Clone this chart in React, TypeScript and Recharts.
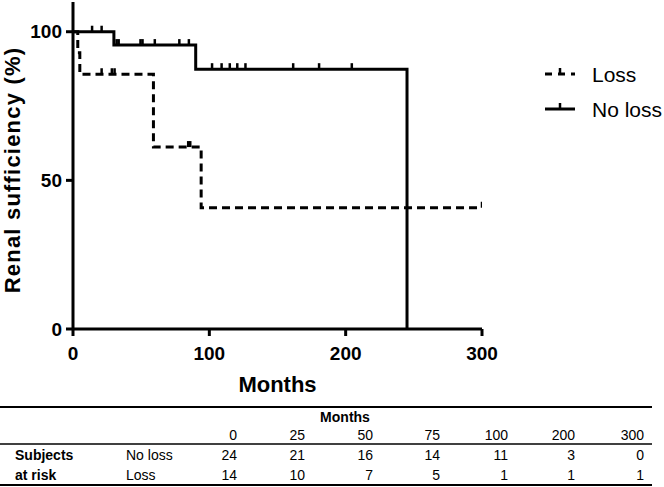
import React from 'react'
import {
  ComposedChart, Line, Scatter, XAxis, YAxis, Label,
} from 'recharts'

// Kaplan-Meier steps (months, % renal sufficiency)
const noLossTimes = [0, 30, 90, 245]
const noLossSurv = [100, 95.5, 87.4, 0]
const lossTimes = [0, 3.5, 5, 59, 94, 300]
const lossSurv = [100, 92.9, 85.7, 61.2, 40.8, 40.8]

// censored subjects
const noLossCensTimes = [14, 21, 32, 33.5, 49.5, 51, 60, 78, 85, 102, 109, 115, 120.5, 126.5, 161.5, 180.5, 204.5]
const noLossCensSurv = [100, 100, 95.5, 95.5, 95.5, 95.5, 95.5, 95.5, 95.5, 87.4, 87.4, 87.4, 87.4, 87.4, 87.4, 87.4, 87.4]
const lossCensTimes = [21, 28.5, 30.5, 84.5, 86, 300]
const lossCensSurv = [85.7, 85.7, 85.7, 61.2, 61.2, 40.8]

const xTicks = [0, 100, 200, 300]
const yTicks = [0, 50, 100]

// subjects at risk
const riskMonths = ['0', '25', '50', '75', '100', '200', '300']
const noLossRisk = [24, 21, 16, 14, 11, 3, 0]
const lossRisk = [14, 10, 7, 5, 1, 1, 1]

const FONT = 'Arial, "Liberation Sans", sans-serif'

const toPts = (t: number[], v: number[]) => t.map((x, i) => ({ t: x, v: v[i] }))

const CensorTick = (props: any) => {
  const { cx, cy } = props
  if (cx == null || cy == null) return null
  return <line x1={cx} y1={cy} x2={cx} y2={cy - 6} stroke="#000" strokeWidth={2.5} />
}

const YLabel = () => (
  <text
    transform="translate(20,170) rotate(-90)"
    textAnchor="middle"
    style={{ fontFamily: FONT, fontSize: 22, fontWeight: 700, letterSpacing: 1.2 }}
    fill="#000"
  >
    Renal sufficiency (%)
  </text>
)

const tickStyle = { fill: '#000', fontSize: 19, fontWeight: 700, fontFamily: FONT }

function RiskTable() {
  const colRight = [237, 305, 373, 440, 508, 575, 644]
  const txt = { fontFamily: FONT, fontSize: 14, fill: '#000' }
  return (
    <svg width={664} height={87} style={{ position: 'absolute', left: 0, top: 400 }}>
      <line x1={0} x2={652} y1={7} y2={7} stroke="#000" strokeWidth={2} />
      <text x={345} y={22} textAnchor="middle" style={{ ...txt, fontWeight: 700 }}>Months</text>
      {riskMonths.map((m, i) => (
        <text key={m} x={colRight[i]} y={40} textAnchor="end" style={txt}>{m}</text>
      ))}
      <line x1={0} x2={652} y1={44} y2={44} stroke="#000" strokeWidth={1.5} />
      <text x={15} y={60} style={{ ...txt, fontWeight: 700 }}>Subjects</text>
      <text x={126} y={60} style={txt}>No loss</text>
      {noLossRisk.map((n, i) => (
        <text key={'a' + i} x={colRight[i]} y={60} textAnchor="end" style={txt}>{n}</text>
      ))}
      <text x={15} y={80} style={{ ...txt, fontWeight: 700 }}>at risk</text>
      <text x={126} y={80} style={txt}>Loss</text>
      {lossRisk.map((n, i) => (
        <text key={'b' + i} x={colRight[i]} y={80} textAnchor="end" style={txt}>{n}</text>
      ))}
      <line x1={0} x2={652} y1={85} y2={85} stroke="#000" strokeWidth={2} />
    </svg>
  )
}

function KMLegend() {
  const txt = { fontFamily: FONT, fontSize: 21, fill: '#000' }
  return (
    <svg width={140} height={70} style={{ position: 'absolute', left: 540, top: 60 }}>
      <line x1={5} x2={35} y1={14} y2={14} stroke="#000" strokeWidth={3} strokeDasharray="7 6" />
      <line x1={20} x2={20} y1={14} y2={8} stroke="#000" strokeWidth={2.5} />
      <text x={52} y={22} style={txt}>Loss</text>
      <line x1={5} x2={35} y1={49} y2={49} stroke="#000" strokeWidth={3} />
      <line x1={20} x2={20} y1={49} y2={43} stroke="#000" strokeWidth={2.5} />
      <text x={52} y={57} style={txt}>No loss</text>
    </svg>
  )
}

export default function App() {
  return (
    <div style={{ position: 'absolute', left: 0, top: 0, width: 664, height: 487, background: '#fff', fontFamily: FONT }}>
      <ComposedChart width={664} height={400} margin={{ top: 2, right: 182, left: 0, bottom: 0 }}>
        <XAxis
          type="number" dataKey="t" domain={[0, 300]} ticks={xTicks} allowDataOverflow
          stroke="#000" strokeWidth={3} tickSize={7} tickMargin={11} height={71}
          tick={tickStyle} tickLine={{ stroke: '#000', strokeWidth: 3 }}
        >
          <Label value="Months" position="insideBottom" offset={8}
            style={{ fontFamily: FONT, fontSize: 22, fontWeight: 700, fill: '#000' }} />
        </XAxis>
        <YAxis
          type="number" domain={[0, 110]} ticks={yTicks} allowDataOverflow width={73}
          stroke="#000" strokeWidth={3} tickSize={7} tickMargin={4}
          tick={tickStyle} tickLine={{ stroke: '#000', strokeWidth: 3 }}
        >
          <Label content={<YLabel />} />
        </YAxis>
        <Line data={toPts(lossTimes, lossSurv)} dataKey="v" type="stepAfter" stroke="#000"
          strokeWidth={3} strokeDasharray="8 5" dot={false} isAnimationActive={false} />
        <Line data={toPts(noLossTimes, noLossSurv)} dataKey="v" type="stepAfter" stroke="#000"
          strokeWidth={3} dot={false} isAnimationActive={false} />
        <Scatter data={toPts(lossCensTimes, lossCensSurv)} dataKey="v" shape={<CensorTick />} isAnimationActive={false} />
        <Scatter data={toPts(noLossCensTimes, noLossCensSurv)} dataKey="v" shape={<CensorTick />} isAnimationActive={false} />
      </ComposedChart>
      <KMLegend />
      <RiskTable />
    </div>
  )
}
